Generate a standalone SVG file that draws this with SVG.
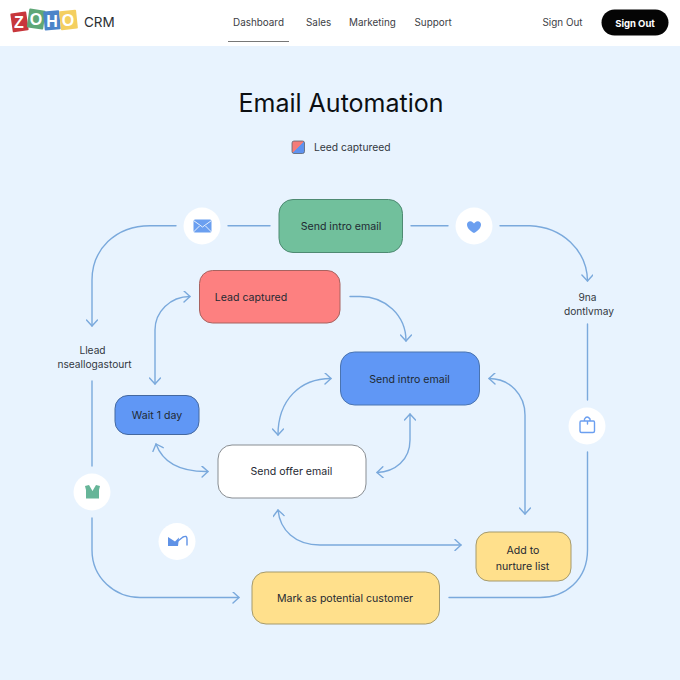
<svg xmlns="http://www.w3.org/2000/svg" width="680" height="680" viewBox="0 0 680 680">
<style>
text{font-family:Inter,"Liberation Sans",sans-serif;fill:#2a2f36}
.nav{font-size:9.900px;fill:#3c4045}
.n{font-size:10.600px;text-anchor:middle;fill:#1f2a33}
.lb{font-size:10.200px;text-anchor:middle;fill:#33383e}
.box{stroke-width:1}
.c{fill:none;stroke:#7aa9dc;stroke-width:1.4;stroke-linecap:round}
.h{fill:none;stroke:#7aa9dc;stroke-width:1.4;stroke-linecap:round;stroke-linejoin:round}
.disc{fill:#fff}
.logo{font-size:16px;font-weight:700;fill:#fff;text-anchor:middle;font-family:"Liberation Sans",sans-serif}
</style>
<defs>
<marker id="ah" viewBox="0 0 12 12" refX="10" refY="6" markerWidth="12" markerHeight="12" markerUnits="userSpaceOnUse" orient="auto-start-reverse"><path d="M4 0.5L10 6L4 11.5" fill="none" stroke="#7aa9dc" stroke-width="1.4" stroke-linecap="round" stroke-linejoin="round"/></marker>
<linearGradient id="leg" x1="0" y1="0" x2="1" y2="1"><stop offset="0.5" stop-color="#f47c78"/><stop offset="0.5" stop-color="#5f92ee"/></linearGradient>
</defs>
<rect width="680" height="680" fill="#e8f3fe"/>
<g id="header">
<rect width="680" height="46" fill="#fff"/>
<g id="logo">
<rect x="11.500" y="12.500" width="16" height="19" rx="1" fill="#c8373c" transform="rotate(-8 19 22)"/>
<rect x="28" y="9.500" width="16.500" height="19" rx="1" fill="#5fa777" transform="rotate(8 36 19)"/>
<rect x="44" y="11" width="16" height="19" rx="1" fill="#4b84c9" transform="rotate(-5 51 21)"/>
<rect x="60" y="10.500" width="17" height="19" rx="1" fill="#f4cf60" transform="rotate(-6 68 20)"/>
<text class="logo" x="19" y="28">Z</text><text class="logo" x="36" y="25">O</text><text class="logo" x="52" y="27">H</text><text class="logo" x="68" y="26">O</text>
<text x="84" y="27" style="font-size:13.500px;fill:#2c2f33">CRM</text>
</g>
<text class="nav" x="233" y="25.500">Dashboard</text>
<rect x="228" y="41" width="61" height="1" fill="#777"/>
<text class="nav" x="306" y="25.500">Sales</text>
<text class="nav" x="349" y="25.500">Marketing</text>
<text class="nav" x="414.500" y="25.500">Support</text>
<text class="nav" x="542.500" y="25.500">Sign Out</text>
<rect x="601.500" y="9.500" width="67" height="26" rx="13" fill="#050505"/>
<text x="635" y="26.500" style="font-size:9.500px;font-weight:700;fill:#fff;text-anchor:middle">Sign Out</text>
</g>
<text x="341" y="112" style="font-size:25px;fill:#0c0f12;text-anchor:middle">Email Automation</text>
<g id="legend">
<rect x="292" y="141" width="12.500" height="12.500" rx="2" fill="url(#leg)" stroke="#5a6270" stroke-width="0.8"/>
<text x="314" y="151" style="font-size:10.300px;fill:#33383e">Leed captureed</text>
</g>
<g id="connectors">
<path class="c" d="M176 225.700H150C115 225.700 92 250 92 280V326" marker-end="url(#ah)"/>
<path class="c" d="M228 225.700H270"/>
<path class="c" d="M411 225.700H448"/>
<path class="c" d="M500 225.700H530C562 227 587 250 587.500 281" marker-end="url(#ah)"/>
<path class="c" d="M587.500 324V400"/>
<path class="c" d="M587.500 452V550C587.500 580 565 597.500 540 597.500H449"/>
<path class="c" d="M92 381V466"/>
<path class="c" d="M92 518V550C92 578 115 597.500 140 597.500H239" marker-end="url(#ah)"/>
<path class="c" d="M190 296.500C170 296.500 155 312 155 330V384" marker-start="url(#ah)" marker-end="url(#ah)"/>
<path class="c" d="M350 296.500H360C385 296.500 406 315 406 341" marker-end="url(#ah)"/>
<path class="c" d="M331 378.500C300 378.500 278 400 278 435" marker-start="url(#ah)" marker-end="url(#ah)"/>
<path class="c" d="M156 444C163 463 180 472 208 471.500" marker-start="url(#ah)" marker-end="url(#ah)"/>
<path class="c" d="M410 414V440C410 460 395 472 377 472.500" marker-start="url(#ah)" marker-end="url(#ah)"/>
<path class="c" d="M489 378.500C510 378.500 525 395 525 415V514" marker-start="url(#ah)" marker-end="url(#ah)"/>
<path class="c" d="M278 510C280 530 295 545 320 545H461" marker-start="url(#ah)" marker-end="url(#ah)"/>
</g>
<g id="icon-mail"><circle class="disc" cx="202" cy="226" r="18.500"/>
<rect x="193.500" y="219.500" width="18" height="13" rx="1.500" fill="#6b9ff0"/><path d="M193.500 220.500L202.500 227L211.500 220.500M193.500 232L199.500 226M211.500 232L205.500 226" fill="none" stroke="#e6f0fd" stroke-width="1"/></g>
<g id="icon-heart"><circle class="disc" cx="474" cy="226" r="18.500"/>
<path d="M474 233C470 231 467 228 467 224.500C467 221.500 470.500 220 473 222.500L474 223.500L475 222.500C477.500 220 481 221.500 481 224.500C481 228 478 231 474 233Z" fill="#6b9ff0"/></g>
<g id="icon-bag"><circle class="disc" cx="587" cy="426" r="18.500"/>
<path class="h" style="stroke:#6b9ff0" d="M581 421H593.500Q594.500 421 594.500 422.500V431Q594.500 432.500 593 432.500H581.500Q580 432.500 580 431V422.500Q580 421 581 421ZM584.500 421V419Q587 415 590 419V421M587.500 421V424"/></g>
<g id="icon-shirt"><circle class="disc" cx="92" cy="492" r="18.500"/>
<path d="M85 486L89 485L92.500 491L96 485L100 486L99 490V498.500H86V490Z" fill="#66b598"/></g>
<g id="icon-mail2"><circle class="disc" cx="177" cy="541.500" r="18.500"/>
<path d="M168 537L175 541.500L179 537.500L178 546H168Z" fill="#5f92e6"/><path class="h" style="stroke:#5f92e6" d="M178 541L183 537Q187 535 187 539V545"/></g>
<g id="node-send-intro-green"><rect class="box" x="279" y="199.500" width="123.500" height="53" rx="14" fill="#71c09c" stroke="#4e8a72"/><text class="n" x="341" y="230">Send intro email</text></g>
<g id="node-lead-captured"><rect class="box" x="199.500" y="270.500" width="140.500" height="52.500" rx="13" fill="#fd8080" stroke="#a8625f"/><text class="n" x="251" y="300.500">Lead captured</text></g>
<g id="node-send-intro-blue"><rect class="box" x="340.500" y="352" width="139" height="53" rx="14" fill="#6097f5" stroke="#4a74b0"/><text class="n" x="409.500" y="382.500">Send intro email</text></g>
<g id="node-wait"><rect class="box" x="115" y="395.500" width="84" height="39" rx="13" fill="#6097f5" stroke="#44689f"/><text class="n" x="157" y="419">Wait 1 day</text></g>
<g id="node-send-offer"><rect class="box" x="218" y="445" width="148" height="53" rx="14" fill="#fff" stroke="#888d92"/><text class="n" x="291.500" y="475">Send offer email</text></g>
<g id="node-nurture"><rect class="box" x="476" y="532" width="95" height="49" rx="13" fill="#ffe08c" stroke="#a59a6c"/><text class="n" x="523" y="553.500">Add to</text><text class="n" x="522.500" y="569.500">nurture list</text></g>
<g id="node-potential"><rect class="box" x="252" y="572" width="187.500" height="52" rx="14" fill="#ffe08c" stroke="#a59a6c"/><text class="n" x="345" y="602">Mark as potential customer</text></g>
<g id="label-left"><text class="lb" x="92.500" y="353.500">Llead</text><text class="lb" x="94.500" y="368">nseallogastourt</text></g>
<g id="label-right"><text class="lb" x="587.500" y="300.500">9na</text><text class="lb" x="589" y="315">dontlvmay</text></g>
</svg>
